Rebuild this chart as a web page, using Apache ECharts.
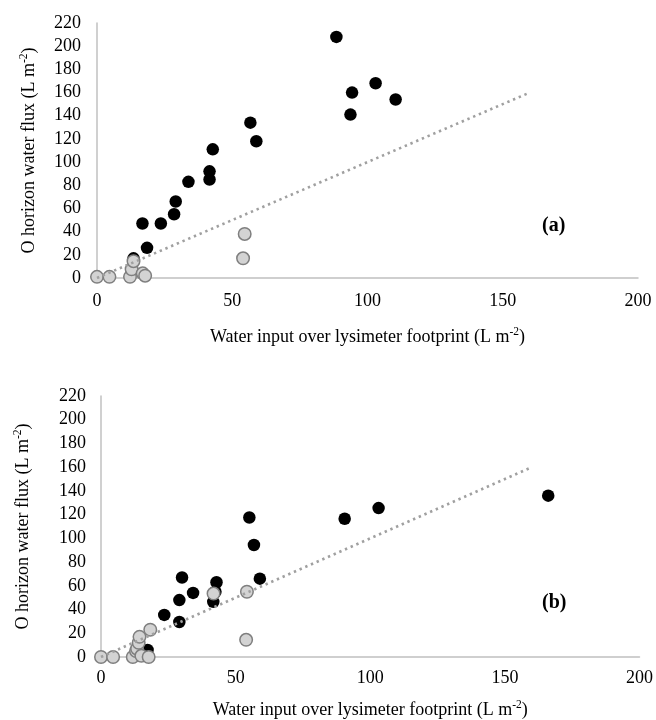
<!DOCTYPE html>
<html>
<head>
<meta charset="utf-8">
<script src="https://cdn.jsdelivr.net/npm/echarts@6/dist/echarts.min.js"></script>
<style>html,body{margin:0;padding:0;background:#fff}#c{width:656px;height:720px}</style>
</head>
<body>
<div id="c"></div>
<script>
// Panel (a)
var blackA = [[13.5,17],[16.8,47],[18.5,26],[23.6,47],[28.5,55],[29.1,66],[33.8,83],[41.6,85],[41.6,92],[42.8,111],[56.7,134],[58.9,118],[88.5,208],[93.7,141],[94.3,160],[103,168],[110.4,154]];
var grayA = [[0,1],[4.6,1],[12.2,1],[12.8,7.5],[13.5,14.5],[16.9,4],[17.8,2],[54.6,38],[54,17]];
// Panel (b)
var blackB = [[17.3,6],[23.5,35.5],[29.1,29.5],[29.1,48],[30.1,67],[34.2,54],[41.7,46.5],[42.5,55],[42.9,63],[55.1,117.6],[56.8,94.4],[59,66],[90.5,116.5],[103.1,125.5],[166.1,136]];
var grayB = [[0,0],[4.5,0],[11.8,0],[13,5],[13.4,7],[14,12],[14.3,17],[15,1],[17.7,0],[18.3,23],[41.8,53.5],[54.2,55],[53.9,14.5]];
// 1:1 line
var oneToOne = [[0,0],[160,160]];
var panelLabels = ['(a)','(b)'];

var font = 'Liberation Serif';
var rich = {
  t: {fontFamily: font, fontSize: 18, color: '#000', lineHeight: 22},
  s: {fontFamily: font, fontSize: 11.5, color: '#000', lineHeight: 12, verticalAlign: 'top'}
};
function xAxis(idx, gap) {
  return {
    gridIndex: idx, type: 'value', min: 0, max: 200, interval: 50,
    axisLine: {show: true, lineStyle: {color: '#c0c0c0', width: 1.5}},
    axisTick: {show: false}, splitLine: {show: false},
    axisLabel: {fontFamily: font, fontSize: 18, color: '#000', margin: gap[0]},
    name: '{t|Water input over lysimeter footprint (L m}{s|-2}{t|)}',
    nameLocation: 'middle', nameGap: gap[1], nameTextStyle: {rich: rich}
  };
}
function yAxis(idx, gap) {
  return {
    gridIndex: idx, type: 'value', min: 0, max: 220, interval: 20,
    axisLine: {show: true, lineStyle: {color: '#c0c0c0', width: 1.5}},
    axisTick: {show: false}, splitLine: {show: false},
    axisLabel: {fontFamily: font, fontSize: 18, color: '#000', margin: gap[0]},
    name: '{t|O horizon water flux (L m}{s|-2}{t|)}',
    nameLocation: 'middle', nameGap: gap[1], nameRotate: 90, nameTextStyle: {rich: rich}
  };
}
function scat(idx, data, gray) {
  return {
    type: 'scatter', xAxisIndex: idx, yAxisIndex: idx, data: data, symbolSize: 12.5, z: gray ? 3 : 2,
    itemStyle: gray ? {color: '#d3d3d3', borderColor: '#7f7f7f', borderWidth: 1.5, opacity: 1} : {color: '#000', opacity: 1},
    silent: true
  };
}
function line(idx) {
  return {
    type: 'line', xAxisIndex: idx, yAxisIndex: idx, data: oneToOne, symbol: 'none', z: 4,
    lineStyle: {color: '#a0a0a0', width: 2.6, type: [2.4, 3.8]}, silent: true
  };
}
var chart = echarts.init(document.getElementById('c'), null, {renderer: 'canvas'});
chart.setOption({
  animation: false,
  grid: [
    {left: 97, right: 18, top: 23, height: 255},
    {left: 101, right: 16, top: 396, height: 263}
  ],
  xAxis: [xAxis(0, [14, 48]), xAxis(1, [12, 42])],
  yAxis: [yAxis(0, [16, 57]), yAxis(1, [15, 67])],
  series: [
    scat(0, blackA, false), scat(0, grayA, true), line(0),
    scat(1, blackB, false), scat(1, grayB, true), line(1)
  ],
  graphic: [
    {type: 'text', left: 542, top: 216, style: {text: panelLabels[0], fontFamily: font, fontSize: 20, fontWeight: 'bold', fill: '#000'}},
    {type: 'text', left: 542, top: 593, style: {text: panelLabels[1], fontFamily: font, fontSize: 20, fontWeight: 'bold', fill: '#000'}}
  ]
});
</script>
</body>
</html>
